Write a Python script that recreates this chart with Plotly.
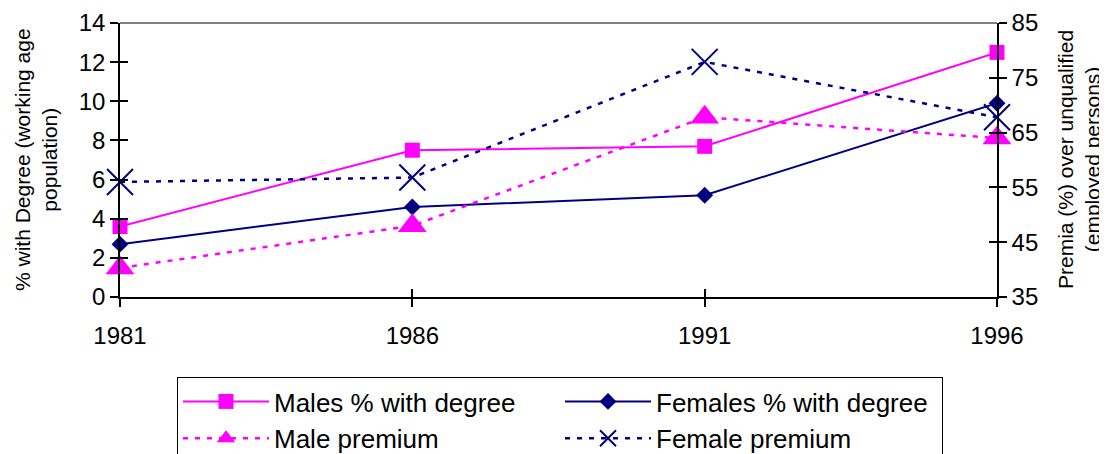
import plotly.graph_objects as go

years = [1981, 1986, 1991, 1996]
males_degree = [3.6, 7.5, 7.7, 12.5]
females_degree = [2.7, 4.6, 5.2, 9.9]
male_premium = [40.3, 48.0, 67.8, 64.0]
female_premium = [56.0, 56.8, 77.9, 67.8]

left_ticks = [0, 2, 4, 6, 8, 10, 12, 14]
right_ticks = [35, 45, 55, 65, 75, 85]

MAG = "#FF00FF"
NAVY = "#000080"
FONT = "Liberation Sans, Arial, sans-serif"

# the page body has an 8px margin, so the figure is drawn 8px lower/righter
W, H, OFF = 1099, 446, 8

fig = go.Figure()
fig.add_trace(go.Scatter(x=years, y=males_degree, name="Males % with degree",
                         mode="lines+markers", cliponaxis=False,
                         line=dict(color=MAG, width=2),
                         marker=dict(symbol="square", size=15, color=MAG)))
fig.add_trace(go.Scatter(x=years, y=females_degree, name="Females % with degree",
                         mode="lines+markers", cliponaxis=False,
                         line=dict(color=NAVY, width=2),
                         marker=dict(symbol="diamond", size=13, color=NAVY)))
fig.add_trace(go.Scatter(x=years, y=male_premium, name="Male premium", yaxis="y2",
                         mode="lines+markers", cliponaxis=False,
                         line=dict(color=MAG, width=2.5, dash="5px,7px"),
                         marker=dict(symbol="triangle-up", size=25, color=MAG)))
fig.add_trace(go.Scatter(x=years, y=female_premium, name="Female premium", yaxis="y2",
                         mode="lines+markers", cliponaxis=False,
                         line=dict(color=NAVY, width=2.5, dash="5px,7px"),
                         marker=dict(symbol="x-thin-open", size=26,
                                     line=dict(color=NAVY, width=2))))

tickfont = dict(family=FONT, size=24, color="black")
common = dict(showgrid=False, zeroline=False, tickcolor="black", ticklen=8,
              tickwidth=1.5, automargin=False)

fig.update_layout(
    width=W, height=H,
    margin=dict(l=120 - OFF, r=110, t=23 - OFF, b=157),
    paper_bgcolor="white", plot_bgcolor="white",
    font=dict(family=FONT, color="black"),
    xaxis=dict(range=[1981, 1996], tickvals=years, ticktext=[str(y) for y in years],
               ticks="outside", showline=True, linecolor="black", linewidth=1.5,
               tickfont=tickfont, ticklabelstandoff=8, **common),
    xaxis2=dict(range=[1981, 1996], tickvals=years, overlaying="x", anchor="y",
                side="bottom", ticks="inside", showticklabels=False, showline=False,
                **common),
    yaxis=dict(range=[0, 14], tickvals=left_ticks, ticks="outside", showline=True,
               linecolor="black", linewidth=1.5, tickfont=tickfont, **common),
    yaxis2=dict(range=[35, 85], tickvals=right_ticks, overlaying="y", side="right",
                ticks="outside", showline=True, linecolor="black", linewidth=1.5,
                tickfont=tickfont, **common),
    yaxis3=dict(range=[0, 14], tickvals=left_ticks, overlaying="y", side="left",
                ticks="inside", showticklabels=False, showline=False, **common),
    yaxis4=dict(range=[35, 85], tickvals=right_ticks, overlaying="y", side="right",
                ticks="inside", showticklabels=False, showline=False, **common),
    showlegend=True,
    legend=dict(orientation="h", xref="container", yref="container",
                x=(177 - OFF) / W, y=1 - (377 - OFF) / H, xanchor="left", yanchor="top",
                bordercolor="black", borderwidth=1, bgcolor="white",
                font=dict(family=FONT, size=26, color="black"),
                itemwidth=86, entrywidth=281, entrywidthmode="pixels",
                traceorder="normal"),
    shapes=[dict(type="line", xref="paper", yref="paper", x0=0, x1=1, y0=1, y1=1,
                 line=dict(color="#808080", width=2))],
    annotations=[
        dict(text="% with Degree (working age<br>population)", xref="paper", yref="paper",
             x=0, y=0.5, xanchor="center", yanchor="middle", xshift=-84, textangle=-90,
             showarrow=False, font=dict(family=FONT, size=21, color="black")),
        dict(text="Premia (%) over unqualified<br>(employed persons)", xref="paper",
             yref="paper", x=1, y=0.5, xanchor="center", yanchor="middle", xshift=82,
             textangle=-90, showarrow=False, font=dict(family=FONT, size=21, color="black")),
    ],
)
# empty traces on the overlay axes so their inner tick halves render
fig.add_trace(go.Scatter(x=[None], y=[None], xaxis="x2", yaxis="y3", showlegend=False, hoverinfo="skip"))
fig.add_trace(go.Scatter(x=[None], y=[None], xaxis="x2", yaxis="y4", showlegend=False, hoverinfo="skip"))

fig.write_html("out.html")
